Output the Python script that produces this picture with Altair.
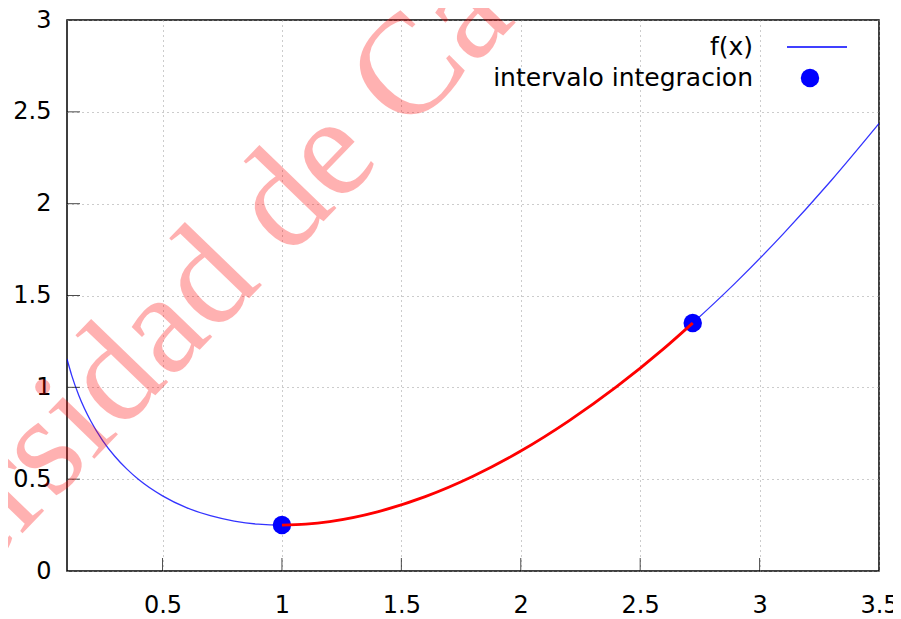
import altair as alt
import pandas as pd

# f(x)
curve_x = [0.10, 0.12, 0.15, 0.20, 0.25, 0.30, 0.35, 0.40, 0.50, 0.60, 0.70, 0.80, 0.90,
           1.00, 1.10, 1.20, 1.40, 1.60, 1.80, 2.00, 2.20, 2.40, 2.60, 2.72, 2.90, 3.10, 3.30, 3.50]
curve_y = [1.154, 1.064, 0.954, 0.815, 0.709, 0.625, 0.556, 0.498, 0.409, 0.345, 0.301, 0.272, 0.255,
           0.250, 0.255, 0.269, 0.322, 0.405, 0.516, 0.653, 0.816, 1.002, 1.212, 1.350, 1.570, 1.837, 2.126, 2.436]

# integration interval endpoints
interval_x = [1.00, 2.72]
interval_y = [0.250, 1.350]

x_ticks = [0.5, 1, 1.5, 2, 2.5, 3, 3.5]
y_ticks = [0, 0.5, 1, 1.5, 2, 2.5, 3]
x_inner_ticks = [0.5, 1, 1.5, 2, 2.5, 3]
y_inner_ticks = [0.5, 1, 1.5, 2, 2.5]

legend_labels = ["f(x)", "intervalo integracion"]
watermark_text = "Universidad de Cádiz"

W, H = 812, 551

curve_df = pd.DataFrame({"x": curve_x, "y": curve_y})
interval_df = pd.DataFrame({"x": interval_x, "y": interval_y})
xt_df = pd.DataFrame({"x": x_inner_ticks})
yt_df = pd.DataFrame({"y": y_inner_ticks})

xs = alt.Scale(domain=[0.1, 3.5], nice=False, zero=False)
ys = alt.Scale(domain=[0, 3], nice=False, zero=False)

x_axis = alt.Axis(values=x_ticks, ticks=False, domain=False, labelFontSize=24,
                  labelFont="DejaVu Sans", labelColor="black", labelPadding=22,
                  grid=True, gridDash=[1, 4], gridColor="#999999", gridWidth=1,
                  title=None, format="~g", labelFlush=False, labelOverlap=False)
y_axis = alt.Axis(values=y_ticks, ticks=False, domain=False, labelFontSize=24,
                  labelFont="DejaVu Sans", labelColor="black", labelPadding=16,
                  grid=True, gridDash=[1, 4], gridColor="#999999", gridWidth=1,
                  title=None, format="~g", labelFlush=False, labelOverlap=False)


def X(f="x"):
    return alt.X(f"{f}:Q", scale=xs, axis=x_axis)


def Y(f="y"):
    return alt.Y(f"{f}:Q", scale=ys, axis=y_axis)


blue = alt.Chart(curve_df).mark_line(color="#0000ff", strokeWidth=1.3, opacity=0.8,
                                     interpolate="monotone", clip=True).encode(x=X(), y=Y(), order="x:Q")

red = alt.Chart(curve_df).transform_filter(
    (alt.datum.x >= interval_x[0]) & (alt.datum.x <= interval_x[1])
).mark_line(color="#ff0000", strokeWidth=2.8, interpolate="monotone", clip=True).encode(
    x=X(), y=Y(), order="x:Q")

pts = alt.Chart(interval_df).mark_point(filled=True, color="#0000ff", size=340, opacity=1).encode(
    x=X(), y=Y())

xt = alt.Chart(xt_df).mark_tick(color="black", thickness=1, size=13, orient="vertical").encode(
    x=X(), y=alt.value(H - 6.5))
yt = alt.Chart(yt_df).mark_tick(color="black", thickness=1, size=13, orient="horizontal").encode(
    y=Y(), x=alt.value(6.5))

leg1 = alt.Chart(pd.DataFrame({"label": [legend_labels[0]]})).mark_text(
    align="right", baseline="middle", font="DejaVu Sans", fontSize=25, color="black").encode(
    text="label:N", x=alt.value(686), y=alt.value(27))
leg2 = alt.Chart(pd.DataFrame({"label": [legend_labels[1]]})).mark_text(
    align="right", baseline="middle", font="DejaVu Sans", fontSize=25, color="black").encode(
    text="label:N", x=alt.value(686), y=alt.value(58))
leg_line = alt.Chart(pd.DataFrame({"label": [legend_labels[0]]})).mark_rule(
    color="#0000ff", strokeWidth=1.3).encode(x=alt.value(720), x2=alt.value(780), y=alt.value(27))
leg_dot = alt.Chart(pd.DataFrame({"label": [legend_labels[1]]})).mark_point(
    filled=True, color="#0000ff", size=340, opacity=1).encode(x=alt.value(743), y=alt.value(58))

wm = alt.Chart(pd.DataFrame({"t": [watermark_text]})).mark_text(
    font="Liberation Serif", fontSize=143, angle=314,
    align="center", baseline="alphabetic",
    color="#ff0000", opacity=0.3).encode(text="t:N", x=alt.value(141), y=alt.value(321))

chart = alt.layer(blue, pts, red, xt, yt, leg1, leg2, leg_line, leg_dot, wm).properties(
    width=W, height=H,
    autosize=alt.AutoSizeParams(type="none"),
    padding={"left": 59, "top": 12, "right": 14, "bottom": 48},
    background="white",
).configure_view(stroke="black", strokeWidth=1.5)

chart.save("out.html", embed_options={"renderer": "svg", "actions": False})
